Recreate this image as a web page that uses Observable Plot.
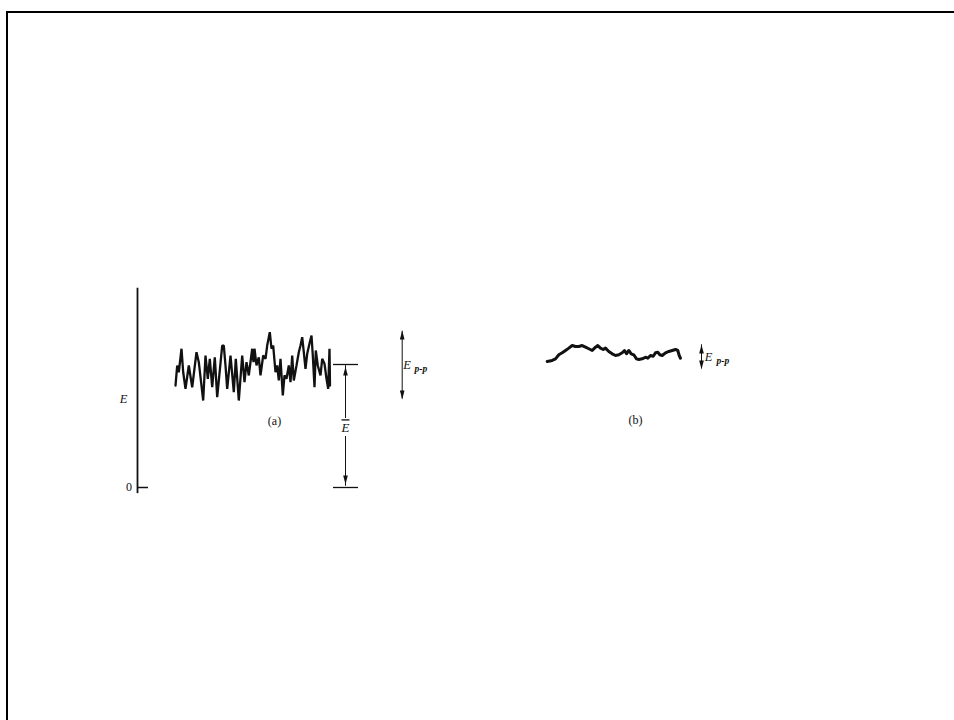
<!DOCTYPE html>
<html><head><meta charset="utf-8">
<script src="https://cdn.jsdelivr.net/npm/d3@7"></script>
<script src="https://cdn.jsdelivr.net/npm/@observablehq/plot@0.6"></script>
<style>
html,body{margin:0;padding:0;background:#fff;overflow:hidden;width:954px;height:720px;}
#frame{position:absolute;left:6px;top:11px;width:960px;height:720px;border-left:2px solid #000;border-top:2px solid #000;}
#chart{position:absolute;left:0;top:0;}
.over{text-decoration:overline;}
</style></head><body>
<div id="frame"></div>
<div id="chart"></div>
<script>
// (a) noisy signal: time t, level E (in units of the mean Ē)
const tA = [38,39.7,41.3,44,45.7,48,51.3,54.7,59,61.3,65.7,68,70.3,72.3,74.7,77.3,79.7,84.7,86.3,88,89.7,93,96.3,98.3,101.3,104.7,107,109,111.3,114.7,116,117,119,121.3,123,125.7,128,129.7,132.3,134,135.7,138,139.7,141.3,143,145.3,147,149,151.3,153,154.7,156.3,159,161.3,163,164.7,166.3,168,169.7,172.3,174,175.3,177,178.3,180.3,183,184.7,187,189,190.7,192,192.5];
const eA = [0.829,0.992,0.937,1.128,0.937,0.802,0.992,0.815,1.100,1.019,0.707,1.073,0.884,1.046,0.815,1.059,0.734,1.154,1.154,0.992,0.802,1.073,0.775,1.046,0.707,1.073,0.856,1.019,0.911,1.128,1.019,1.128,0.992,1.059,0.911,1.073,1.046,1.154,1.263,1.128,1.154,0.937,0.992,0.870,1.046,0.748,0.911,0.884,0.992,0.856,1.073,0.870,0.992,1.100,1.154,1.222,1.100,0.965,1.087,1.181,1.236,1.073,0.815,1.114,0.992,0.911,1.046,1.006,0.884,0.802,1.128,0.829];
// (b) smoothed signal
const tB = [409.7,414.7,418,421.3,424.7,428,431.3,434.7,438,441.3,444.7,448,451.3,454.7,458,460.3,463,465.7,468,471.3,474.7,478,481.3,484.7,487,489,491.3,493.7,496.3,499,501.3,504.7,508,510.3,513,515.7,518,520.3,522.3,524.7,528,531.3,534.7,538,540.3,541.7,543];
const eB = [1.024,1.033,1.046,1.079,1.095,1.114,1.133,1.154,1.146,1.146,1.154,1.141,1.128,1.114,1.141,1.154,1.133,1.122,1.133,1.106,1.087,1.073,1.079,1.095,1.114,1.087,1.114,1.087,1.079,1.046,1.041,1.046,1.059,1.051,1.073,1.067,1.095,1.100,1.079,1.073,1.095,1.106,1.114,1.122,1.114,1.073,1.051];

// E axis
const axisT = [0];
const axisELow = [-0.05];
const axisEHigh = [1.62];
const tickE = [0];
const tickT1 = [0];
const tickT2 = [11];

// dimension lines (Ē, Ep-p for a and b)
const dimShaftT = [208, 208, 264.7, 564];
const dimShaftLow = [0.01, 0.561, 0.72, 0.965];
const dimShaftHigh = [0.415, 0.99, 1.27, 1.16];
const dimTipT = [208, 208, 264.7, 264.7, 564, 564];
const dimTipE = [0.983, 0.024, 1.276, 0.715, 1.163, 0.959];
const dimTipDir = ["up", "down", "up", "down", "up", "down"];
const extE = [1, 0];
const extT1 = [196, 196];
const extT2 = [221, 221];

// labels
const labelText = ["0", "(a)", "(b)"];
const labelT = [-8.5, 137, 498];
const labelE = [0, 0.537, 0.545];
const eLabelT = [-14, 269.5, 571];
const eLabelE = [0.72, 1.0, 1.065];
const subText = ["p-p", "p-p"];
const subT = [277, 579];
const subE = [0.962, 1.028];
const ebarT = [208];
const ebarE = [0.483];

const idx = a => a.map((_, i) => i);
const sigA = idx(tA).map(i => ({t: tA[i], e: eA[i]}));
const sigB = idx(tB).map(i => ({t: tB[i], e: eB[i]}));
const shafts = idx(dimShaftT).map(i => ({t: dimShaftT[i], lo: dimShaftLow[i], hi: dimShaftHigh[i]}));
const tips = idx(dimTipT).map(i => ({t: dimTipT[i], e: dimTipE[i], dir: dimTipDir[i]}));
const exts = idx(extE).map(i => ({e: extE[i], t1: extT1[i], t2: extT2[i]}));
const labels = idx(labelText).map(i => ({s: labelText[i], t: labelT[i], e: labelE[i]}));
const eLabels = idx(eLabelT).map(i => ({t: eLabelT[i], e: eLabelE[i]}));
const subs = idx(subText).map(i => ({s: subText[i], t: subT[i], e: subE[i]}));

const arrowHead = { draw(ctx) { ctx.moveTo(0, 0); ctx.lineTo(-2.3, 9); ctx.lineTo(2.3, 9); ctx.closePath(); } };
const ink = "#111";
const serif = "Liberation Serif, DejaVu Serif, serif";

const chart = Plot.plot({
  width: 954, height: 720,
  margin: 0,
  x: {domain: [-137, 817], axis: null},
  y: {domain: [-233/123, 487/123], axis: null},
  style: {background: "transparent", fontFamily: serif},
  marks: [
    Plot.ruleX(axisT.map((t, i) => ({t, lo: axisELow[i], hi: axisEHigh[i]})), {x: "t", y1: "lo", y2: "hi", stroke: ink, strokeWidth: 1.8}),
    Plot.ruleY(tickE.map((e, i) => ({e, t1: tickT1[i], t2: tickT2[i]})), {y: "e", x1: "t1", x2: "t2", stroke: ink, strokeWidth: 1.5}),
    Plot.line(sigA, {x: "t", y: "e", stroke: ink, strokeWidth: 2.3, strokeLinejoin: "miter"}),
    Plot.line(sigB, {x: "t", y: "e", stroke: ink, strokeWidth: 3, strokeLinejoin: "round"}),
    Plot.ruleX(shafts, {x: "t", y1: "lo", y2: "hi", stroke: ink, strokeWidth: 1}),
    Plot.dot(tips, {x: "t", y: "e", symbol: arrowHead, rotate: d => d.dir === "up" ? 0 : 180, fill: ink, stroke: "none"}),
    Plot.ruleY(exts, {y: "e", x1: "t1", x2: "t2", stroke: ink, strokeWidth: 1.3}),
    Plot.text(labels, {x: "t", y: "e", text: "s", fontSize: 12, fill: ink}),
    Plot.text(eLabels, {x: "t", y: "e", text: () => "E", fontSize: 12.5, fontStyle: "italic", textAnchor: d => d.t < 0 ? "middle" : "start", fill: ink}),
    Plot.text(subs, {x: "t", y: "e", text: "s", fontSize: 9.5, fontStyle: "italic", fontWeight: "bold", textAnchor: "start", fill: ink}),
    Plot.text(ebarT.map((t, i) => ({t, e: ebarE[i]})), {x: "t", y: "e", text: () => "E", fontSize: 13, fontStyle: "italic", fill: ink, className: "ebar"})
  ]
});
document.getElementById("chart").appendChild(chart);
d3.select(chart).selectAll(".ebar text").attr("class", "over");
</script>
</body></html>
